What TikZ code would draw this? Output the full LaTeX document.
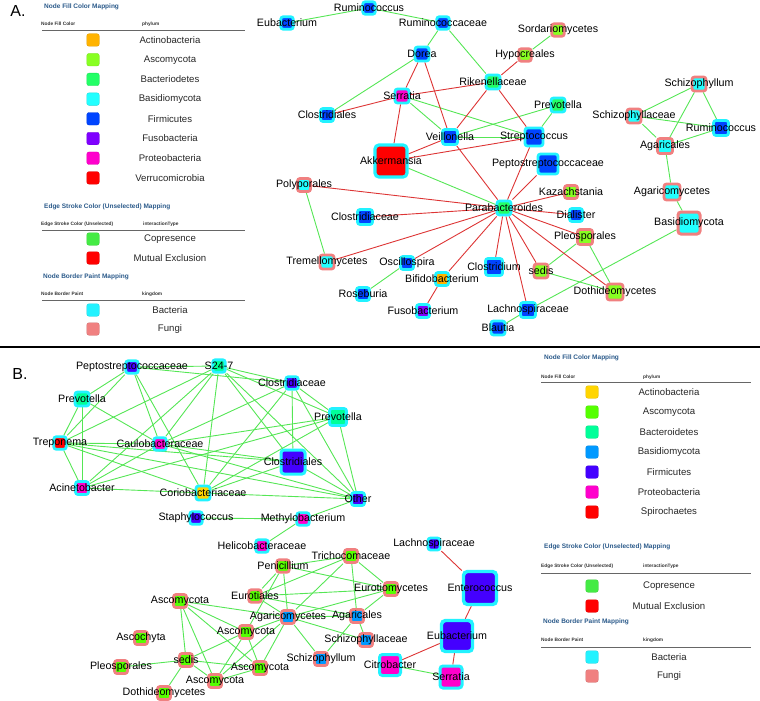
\documentclass[tikz,border=0pt]{standalone}
\usepackage{fontspec}
\setmainfont{Liberation Sans}
\usetikzlibrary{backgrounds}

% couleurs du panneau A
\definecolor{actA}{HTML}{FFB300}
\definecolor{ascA}{HTML}{88FF22}
\definecolor{bctA}{HTML}{22FF66}
\definecolor{basA}{HTML}{22FFFF}
\definecolor{firA}{HTML}{0044FF}
\definecolor{fusA}{HTML}{7F00FF}
\definecolor{proA}{HTML}{FF00CC}
\definecolor{verA}{HTML}{FF0000}
% couleurs du panneau B
\definecolor{actB}{HTML}{FFD500}
\definecolor{ascB}{HTML}{55FF00}
\definecolor{bctB}{HTML}{00FF99}
\definecolor{basB}{HTML}{0099FF}
\definecolor{firB}{HTML}{4400FF}
\definecolor{proB}{HTML}{FF00CC}
\definecolor{spiB}{HTML}{FF0000}
% bordures, aretes, legendes
\definecolor{bordBact}{HTML}{22F2FF}
\definecolor{bordFung}{HTML}{F08080}
\definecolor{coC}{HTML}{55E655}
\definecolor{mxC}{HTML}{DD3535}
\definecolor{legBlue}{HTML}{2B5A8A}

\tikzset{
  otu/.style={draw=bordBact, fill=#1, line width=2.8pt, rounded corners=2.5pt,
    minimum size=12.5pt, inner sep=0pt},
  fg/.style={draw=bordFung},
  lab/.style={font=\fontsize{10.7}{12}\selectfont, inner sep=0pt, text=black},
  co/.style={draw=coC, line width=.9pt},
  mx/.style={draw=mxC, line width=.9pt},
  swatch/.style={fill=#1, draw=#1!85!black, line width=.3pt, rounded corners=2.2pt,
    minimum size=12.5pt, inner sep=0pt},
  legtxt/.style={font=\fontsize{9.6}{11}\selectfont, text=black!85, inner sep=0pt},
  legtitle/.style={anchor=west, font=\fontsize{6.5}{7}\selectfont\bfseries, text=legBlue, inner sep=0pt},
  leghdr/.style={anchor=west, font=\fontsize{4.8}{5}\selectfont\bfseries, text=black!80, inner sep=0pt},
  legrule/.style={draw=black!60, line width=.8pt},
  panel/.style={font=\fontsize{16}{18}\selectfont, inner sep=0pt},
}

\begin{document}
\begin{tikzpicture}[x=1pt,y=-1pt]
\useasboundingbox (0,0) rectangle (760,701);

% ---------------- Panneau A : legendes
\node[panel] (lblA) at (18,11) {A.};
\node[legtitle] (tA1) at (44,7) {Node Fill Color Mapping};
\node[leghdr] (hA1a) at (41,24) {Node Fill Color};
\node[leghdr] (hA1b) at (142,24) {phylum};
\coordinate (rA1l) at (42,30); \coordinate (rA1r) at (245,30);
\draw[legrule] (rA1l) -- (rA1r);
\foreach \c/\t [count=\i] in {actA/Actinobacteria, ascA/Ascomycota, bctA/Bacteriodetes,
    basA/Basidiomycota, firA/Firmicutes, fusA/Fusobacteria, proA/Proteobacteria, verA/Verrucomicrobia}{
  \node[swatch=\c] (swA\i) at (93,{20.3+19.7*\i}) {};
  \node[legtxt] (ltA\i) at (170,{20.3+19.7*\i}) {\t};
}
\node[legtitle] (tA2) at (44,207) {Edge Stroke Color (Unselected) Mapping};
\node[leghdr] (hA2a) at (41,224) {Edge Stroke Color (Unselected)};
\node[leghdr] (hA2b) at (143,224) {interactionType};
\coordinate (rA2l) at (42,230); \coordinate (rA2r) at (245,230);
\draw[legrule] (rA2l) -- (rA2r);
\node[swatch=coC!80!green] (swA9) at (93,239) {};
\node[legtxt] (ltA9) at (170,239) {Copresence};
\node[swatch=verA] (swA10) at (93,258) {};
\node[legtxt] (ltA10) at (170,258) {Mutual Exclusion};
\node[legtitle] (tA3) at (43,277) {Node Border Paint Mapping};
\node[leghdr] (hA3a) at (41,294) {Node Border Paint};
\node[leghdr] (hA3b) at (142,294) {kingdom};
\coordinate (rA3l) at (42,300); \coordinate (rA3r) at (245,300);
\draw[legrule] (rA3l) -- (rA3r);
\node[swatch=bordBact] (swA11) at (93,310) {};
\node[legtxt] (ltA11) at (170,310) {Bacteria};
\node[swatch=bordFung] (swA12) at (93,329) {};
\node[legtxt] (ltA12) at (170,329) {Fungi};

% ---------------- Panneau A : reseau
\node[otu=firA, label={[lab]center:Eubacterium}] (eubA) at (287,23) {};
\node[otu=firA, label={[lab]center:Ruminococcus}] (rumA) at (369,8) {};
\node[otu=firA, label={[lab]center:Ruminococcaceae}] (rumcA) at (443,23) {};
\node[otu=firA, minimum size=14pt, label={[lab]center:Dorea}] (dorA) at (422,54) {};
\node[otu=proA, minimum size=14pt, label={[lab]center:Serratia}] (serA) at (402,96) {};
\node[otu=firA, minimum size=13pt, label={[lab]center:Clostridiales}] (closA) at (327,115) {};
\node[otu=bctA, minimum size=14pt, label={[lab]center:Rikenellaceae}] (rikA) at (493,82) {};
\node[otu=firA, minimum size=15pt, label={[lab]center:Veillonella}] (veiA) at (450,137) {};
\node[otu=verA, minimum size=32pt, line width=3.2pt, rounded corners=4pt, label={[lab]center:Akkermansia}] (akkA) at (391,161) {};
\node[otu=basA, fg, minimum size=13pt, label={[lab]center:Polyporales}] (polA) at (304,185) {};
\node[otu=ascA, fg, label={[lab]center:Sordariomycetes}] (sordA) at (558,30) {};
\node[otu=ascA, fg, label={[lab]center:Hypocreales}] (hypA) at (525,55) {};
\node[otu=bctA, minimum size=14pt, label={[lab]center:Prevotella}] (prevA) at (558,105) {};
\node[otu=firA, minimum size=18pt, label={[lab]center:Streptococcus}] (strA) at (534,137) {};
\node[otu=firA, minimum size=20pt, label={[lab]center:Peptostreptococcaceae}] (peptA) at (548,164) {};
\node[otu=basA, fg, minimum size=14pt, label={[lab]center:Schizophyllum}] (schzA) at (699,84) {};
\node[otu=basA, fg, minimum size=14pt, label={[lab]center:Schizophyllaceae}] (schcA) at (634,116) {};
\node[otu=firA, minimum size=15pt, label={[lab]center:Ruminococcus}] (rum2A) at (721,128) {};
\node[otu=basA, fg, minimum size=15pt, label={[lab]center:Agaricales}] (agrA) at (665,146) {};
\node[otu=basA, fg, minimum size=16pt, label={[lab]center:Agaricomycetes}] (agmA) at (672,192) {};
\node[otu=basA, fg, minimum size=22pt, line width=3pt, rounded corners=3pt, label={[lab]center:Basidiomycota}] (basA) at (689,223) {};
\node[otu=bctA, minimum size=14pt, label={[lab]center:Parabacteroides}] (parA) at (504,208) {};
\node[otu=ascA, fg, minimum size=13pt, label={[lab]center:Kazachstania}] (kazA) at (571,192) {};
\node[otu=firA, minimum size=13pt, label={[lab]center:Dialister}] (diaA) at (576,215) {};
\node[otu=ascA, fg, minimum size=15pt, label={[lab]center:Pleosporales}] (pleA) at (585,237) {};
\node[otu=firA, minimum size=15pt, label={[lab]center:Clostridiaceae}] (clsdA) at (365,217) {};
\node[otu=basA, fg, minimum size=14pt, label={[lab]center:Tremellomycetes}] (treA) at (327,262) {};
\node[otu=firA, minimum size=13pt, label={[lab]center:Oscillospira}] (oscA) at (407,263) {};
\node[otu=firA, minimum size=13pt, label={[lab]center:Roseburia}] (rosA) at (363,294) {};
\node[otu=actA, minimum size=13pt, label={[lab]center:Bifidobacterium}] (bifA) at (442,279) {};
\node[otu=fusA, minimum size=13pt, label={[lab]center:Fusobacterium}] (fusA) at (423,311) {};
\node[otu=firA, minimum size=17pt, label={[lab]center:Clostridium}] (cldA) at (494,267) {};
\node[otu=firA, minimum size=14pt, label={[lab]center:Blautia}] (blaA) at (498,328) {};
\node[otu=firA, minimum size=15pt, label={[lab]center:Lachnospiraceae}] (lacA) at (528,310) {};
\node[otu=ascA, fg, minimum size=14pt, label={[lab]center:sedis}] (sedA) at (541,271) {};
\node[otu=ascA, fg, minimum size=16pt, label={[lab]center:Dothideomycetes}] (dotA) at (615,292) {};

\begin{scope}[on background layer]
\foreach \a/\b in {eubA/rumA, rumA/rumcA, rumcA/dorA, rumcA/rikA, dorA/closA, sordA/hypA,
    serA/veiA, serA/strA, veiA/prevA, veiA/strA, prevA/strA, akkA/parA, polA/treA, oscA/rosA,
    schzA/schcA, schzA/agrA, schzA/rum2A, schcA/rum2A, schcA/agrA, agrA/rum2A, agrA/agmA,
    agmA/basA, basA/lacA, lacA/blaA, pleA/sedA, pleA/dotA, sedA/dotA}
  \draw[co] (\a) -- (\b);
\foreach \a/\b in {serA/closA, serA/dorA, serA/rikA, serA/akkA, dorA/veiA, hypA/rikA, rikA/veiA,
    rikA/strA, veiA/akkA, strA/akkA, veiA/parA, strA/parA, peptA/parA, kazA/parA, diaA/parA,
    polA/parA, clsdA/parA, treA/parA, oscA/parA, bifA/parA, cldA/parA, lacA/parA, sedA/parA,
    pleA/parA, dotA/parA, bifA/fusA}
  \draw[mx] (\a) -- (\b);
\end{scope}

% separation des deux panneaux
\coordinate (sepL) at (0,347); \coordinate (sepR) at (760,347);
\draw[line width=2.6pt] (sepL) -- (sepR);

% ---------------- Panneau B : legendes
\node[panel] (lblB) at (20,374) {B.};
\node[legtitle] (tB1) at (544,358) {Node Fill Color Mapping};
\node[leghdr] (hB1a) at (541,377) {Node Fill Color};
\node[leghdr] (hB1b) at (643,377) {phylum};
\coordinate (rB1l) at (541,382); \coordinate (rB1r) at (751,382);
\draw[legrule] (rB1l) -- (rB1r);
\foreach \c/\t [count=\i] in {actB/Actinobacteria, ascB/Ascomycota, bctB/Bacteroidetes,
    basB/Basidiomycota, firB/Firmicutes, proB/Proteobacteria, spiB/Spirochaetes}{
  \node[swatch=\c] (swB\i) at (592,{372+20*\i}) {};
  \node[legtxt] (ltB\i) at (669,{372+20*\i}) {\t};
}
\node[legtitle] (tB2) at (544,547) {Edge Stroke Color (Unselected) Mapping};
\node[leghdr] (hB2a) at (541,566) {Edge Stroke Color (Unselected)};
\node[leghdr] (hB2b) at (643,566) {interactionType};
\coordinate (rB2l) at (541,573); \coordinate (rB2r) at (751,573);
\draw[legrule] (rB2l) -- (rB2r);
\node[swatch=coC!80!green] (swB8) at (592,586) {};
\node[legtxt] (ltB8) at (669,586) {Copresence};
\node[swatch=verA] (swB9) at (592,606) {};
\node[legtxt] (ltB9) at (669,606) {Mutual Exclusion};
\node[legtitle] (tB3) at (543,622) {Node Border Paint Mapping};
\node[leghdr] (hB3a) at (541,640) {Node Border Paint};
\node[leghdr] (hB3b) at (643,640) {kingdom};
\coordinate (rB3l) at (541,647); \coordinate (rB3r) at (751,647);
\draw[legrule] (rB3l) -- (rB3r);
\node[swatch=bordBact] (swB10) at (592,657) {};
\node[legtxt] (ltB10) at (669,657) {Bacteria};
\node[swatch=bordFung] (swB11) at (592,676) {};
\node[legtxt] (ltB11) at (669,676) {Fungi};

% ---------------- Panneau B : reseau des bacteries
\node[otu=firB, label={[lab]center:Peptostreptococcaceae}] (pepB) at (132,367) {};
\node[otu=bctB, label={[lab]center:S24-7}] (s24B) at (219,366) {};
\node[otu=firB, label={[lab]center:Clostridiaceae}] (clsdB) at (292,383) {};
\node[otu=bctB, minimum size=14pt, label={[lab]center:Prevotella}] (prvlB) at (82,399) {};
\node[otu=bctB, minimum size=17pt, label={[lab]center:Prevotella}] (prvrB) at (338,417) {};
\node[otu=spiB, label={[lab]center:Treponema}] (treB) at (60,443) {};
\node[otu=proB, label={[lab]center:Caulobacteraceae}] (cauB) at (160,444) {};
\node[otu=firB, minimum size=24pt, line width=3pt, rounded corners=3pt, label={[lab]center:Clostridiales}] (closB) at (293,462) {};
\node[otu=proB, minimum size=13pt, label={[lab]center:Acinetobacter}] (acnB) at (82,488) {};
\node[otu=actB, minimum size=14pt, label={[lab]center:Coriobacteriaceae}] (corB) at (203,493) {};
\node[otu=firB, minimum size=13pt, label={[lab]center:Other}] (othB) at (358,499) {};
\node[otu=firB, label={[lab]center:Staphylococcus}] (stpB) at (196,518) {};
\node[otu=proB, label={[lab]center:Methylobacterium}] (metB) at (303,519) {};
\node[otu=proB, label={[lab]center:Helicobacteraceae}] (helB) at (262,546) {};
\node[otu=firB, minimum size=12pt, label={[lab]center:Lachnospiraceae}] (lacB) at (434,544) {};
\node[otu=firB, minimum size=33pt, line width=3.4pt, rounded corners=4pt, label={[lab]center:Enterococcus}] (entB) at (480,588) {};
\node[otu=firB, minimum size=31pt, line width=3.4pt, rounded corners=4pt, label={[lab]center:Eubacterium}] (eubB) at (457,636) {};
\node[otu=proB, minimum size=21pt, line width=3pt, rounded corners=3pt, label={[lab]center:Citrobacter}] (citB) at (390,665) {};
\node[otu=proB, minimum size=22pt, line width=3pt, rounded corners=3pt, label={[lab]center:Serratia}] (serB) at (451,677) {};

% ---------------- Panneau B : reseau des champignons
\node[otu=ascB, fg, minimum size=13pt, label={[lab]center:Trichocomaceae}] (triB) at (351,556) {};
\node[otu=ascB, fg, label={[lab]center:Penicillium}] (penB) at (283,566) {};
\node[otu=ascB, fg, minimum size=13pt, label={[lab]center:Eurotiomycetes}] (eumB) at (391,589) {};
\node[otu=ascB, fg, label={[lab]center:Eurotiales}] (eurB) at (255,596) {};
\node[otu=basB, fg, minimum size=13pt, label={[lab]center:Agaricomycetes}] (agmB) at (288,617) {};
\node[otu=basB, fg, minimum size=13pt, label={[lab]center:Agaricales}] (agrB) at (357,616) {};
\node[otu=basB, fg, minimum size=13pt, label={[lab]center:Schizophyllaceae}] (schcB) at (366,640) {};
\node[otu=basB, fg, minimum size=13pt, label={[lab]center:Schizophyllum}] (schzB) at (321,659) {};
\node[otu=ascB, fg, minimum size=13pt, label={[lab]center:Ascomycota}] (as1B) at (180,601) {};
\node[otu=ascB, fg, minimum size=13pt, label={[lab]center:Ascomycota}] (as2B) at (246,632) {};
\node[otu=ascB, fg, minimum size=13pt, label={[lab]center:Ascomycota}] (as3B) at (260,668) {};
\node[otu=ascB, fg, minimum size=13pt, label={[lab]center:Ascomycota}] (as4B) at (215,681) {};
\node[otu=ascB, fg, minimum size=13pt, label={[lab]center:Ascochyta}] (ascoB) at (141,638) {};
\node[otu=ascB, fg, minimum size=13pt, label={[lab]center:sedis}] (sedB) at (186,660) {};
\node[otu=ascB, fg, minimum size=13pt, label={[lab]center:Pleosporales}] (pleB) at (121,667) {};
\node[otu=ascB, fg, minimum size=13pt, label={[lab]center:Dothideomycetes}] (dotB) at (164,693) {};

\begin{scope}[on background layer]
\foreach \a/\b in {pepB/s24B, pepB/clsdB, pepB/prvlB, pepB/treB, pepB/cauB, pepB/corB,
    s24B/clsdB, s24B/prvrB, s24B/treB, s24B/cauB, s24B/acnB, s24B/corB, s24B/closB, s24B/othB,
    clsdB/cauB, clsdB/corB, clsdB/closB, clsdB/prvrB, clsdB/othB,
    prvrB/cauB, prvrB/corB, prvrB/othB, prvrB/acnB,
    prvlB/treB, prvlB/acnB, prvlB/cauB,
    treB/cauB, treB/closB, treB/othB, treB/acnB, treB/corB,
    cauB/acnB, cauB/closB, cauB/othB,
    acnB/corB, corB/othB, corB/closB, closB/othB,
    othB/metB, stpB/metB, metB/helB, citB/serB}
  \draw[co] (\a) -- (\b);
\foreach \a/\b in {as1B/sedB, as1B/as4B, as1B/as2B, as1B/as3B, as1B/agmB,
    pleB/sedB, dotB/sedB, sedB/as2B, sedB/as4B, sedB/as3B,
    as2B/as4B, as2B/as3B, as4B/as3B, as2B/agmB, as3B/agmB, as4B/agmB,
    penB/triB, penB/eumB, penB/eurB, penB/agmB, penB/as2B,
    triB/eumB, triB/agrB, triB/eurB, triB/agmB,
    eumB/eurB, eumB/agmB, eumB/agrB, eurB/agrB, eurB/agmB,
    agmB/agrB, agmB/schcB, agmB/schzB, agrB/schcB, agrB/schzB}
  \draw[co] (\a) -- (\b);
\foreach \a/\b in {lacB/entB, entB/eubB, eubB/citB, eubB/serB}
  \draw[mx] (\a) -- (\b);
\end{scope}
\end{tikzpicture}
\end{document}
